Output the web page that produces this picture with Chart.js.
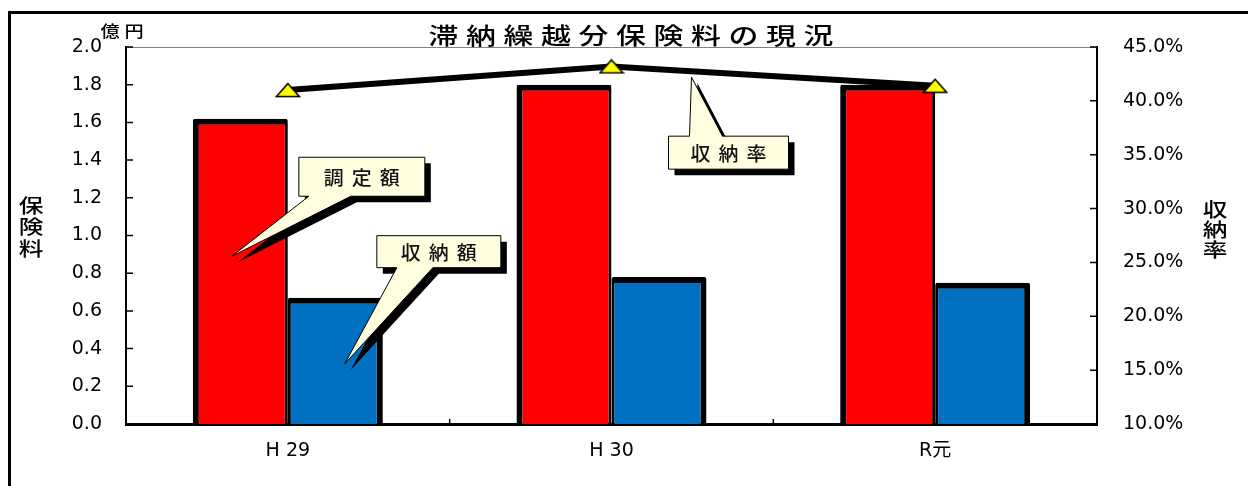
<!DOCTYPE html>
<html>
<head>
<meta charset="utf-8">
<script src="https://cdn.jsdelivr.net/npm/chart.js@4"></script>
<style>
  html, body { margin: 0; padding: 0; background: #fff; }
  #wrap { width: 1248px; height: 486px; }
</style>
</head>
<body>
<div id="wrap"><canvas id="myChart"></canvas></div>
<script>
// chart data
const categories = ['H 29', 'H 30', 'R元'];
const chouteiGaku = [1.62, 1.80, 1.80];   // 調定額 (億円)
const shunouGaku = [0.67, 0.78, 0.75];    // 収納額 (億円)
const shunouRitsu = [41.0, 43.2, 41.4];   // 収納率 (%)
const amountTicks = [0.0, 0.2, 0.4, 0.6, 0.8, 1.0, 1.2, 1.4, 1.6, 1.8, 2.0];
const rateTicks = [10, 15, 20, 25, 30, 35, 40, 45];

const TICK_FONT = '"DejaVu Sans", "Noto Sans CJK JP", sans-serif';
const JP_FONT = '"Noto Sans CJK JP", "DejaVu Sans", sans-serif';

// flat yellow triangle used as point marker
const tri = document.createElement('canvas');
tri.width = 26;
tri.height = 16;
(function () {
  const t = tri.getContext('2d');
  t.beginPath();
  t.moveTo(13, 1.5);
  t.lineTo(24.5, 14.5);
  t.lineTo(1.5, 14.5);
  t.closePath();
  t.fillStyle = '#ffff00';
  t.fill();
  t.lineWidth = 1.5;
  t.strokeStyle = '#000';
  t.stroke();
})();

// draws characters one by one with a fixed pitch, optionally stretched
function spacedText(ctx, text, cx, cy, pitch, sx, vertical) {
  const chars = [...text];
  const start = (vertical ? cy : cx) - pitch * (chars.length - 1) / 2;
  chars.forEach((ch, i) => {
    const x = vertical ? cx : start + i * pitch;
    const y = vertical ? start + i * pitch : cy;
    ctx.save();
    ctx.translate(x, y);
    ctx.scale(sx, 1);
    ctx.fillText(ch, 0, 0);
    ctx.restore();
  });
}

// callouts, tip anchored to data values
const callouts = [
  { text: '調定額', index: 0, dx: -56, axis: 'y', value: 0.89, bx: 67, by: -99, w: 126, h: 39, side: 'bottom', base: [10, 52] },
  { text: '収納額', index: 0, dx: 57, axis: 'y', value: 0.32, bx: 32, by: -128, w: 124, h: 32, side: 'bottom', base: [20, 56] },
  { text: '収納率', index: 1, dx: 80, axis: 'yRate', value: 42.2, bx: -23, by: 59, w: 120, h: 33, side: 'top', base: [21, 54] },
];

function calloutPath(ctx, c, tx, ty, ox, oy) {
  const x = tx + c.bx + ox, y = ty + c.by + oy;
  ctx.beginPath();
  if (c.side === 'bottom') {
    ctx.moveTo(x, y);
    ctx.lineTo(x + c.w, y);
    ctx.lineTo(x + c.w, y + c.h);
    ctx.lineTo(x + c.base[1], y + c.h);
    ctx.lineTo(tx + ox, ty + oy);
    ctx.lineTo(x + c.base[0], y + c.h);
    ctx.lineTo(x, y + c.h);
  } else {
    ctx.moveTo(x, y);
    ctx.lineTo(x + c.base[0], y);
    ctx.lineTo(tx + ox, ty + oy);
    ctx.lineTo(x + c.base[1], y);
    ctx.lineTo(x + c.w, y);
    ctx.lineTo(x + c.w, y + c.h);
    ctx.lineTo(x, y + c.h);
  }
  ctx.closePath();
}

const calloutPlugin = {
  id: 'callouts',
  afterDatasetsDraw(chart) {
    const ctx = chart.ctx;
    const xs = chart.scales.x;
    callouts.forEach(c => {
      const tx = xs.getPixelForValue(c.index) + c.dx;
      const ty = chart.scales[c.axis].getPixelForValue(c.value);
      ctx.save();
      calloutPath(ctx, c, tx, ty, 6, 6);
      ctx.fillStyle = '#000';
      ctx.fill();
      calloutPath(ctx, c, tx, ty, 0, 0);
      ctx.fillStyle = '#ffffe0';
      ctx.fill();
      ctx.lineWidth = 1;
      ctx.strokeStyle = '#000';
      ctx.stroke();
      ctx.fillStyle = '#111';
      ctx.font = '500 19px ' + JP_FONT;
      ctx.textAlign = 'center';
      ctx.textBaseline = 'middle';
      spacedText(ctx, c.text, tx + c.bx + c.w / 2, ty + c.by + c.h / 2 + 1, 28, 1.05, false);
      ctx.restore();
    });
  }
};

const decorPlugin = {
  id: 'decor',
  afterDraw(chart) {
    const ctx = chart.ctx;
    const a = chart.chartArea;
    const xs = chart.scales.x, yl = chart.scales.y, yr = chart.scales.yRate;
    ctx.save();

    // outer frame
    ctx.strokeStyle = '#000';
    ctx.lineWidth = 3;
    ctx.beginPath();
    ctx.moveTo(9.5, 486);
    ctx.lineTo(9.5, 12.5);
    ctx.lineTo(1248, 12.5);
    ctx.stroke();

    // plot top line
    ctx.strokeStyle = '#808080';
    ctx.lineWidth = 1;
    ctx.beginPath();
    ctx.moveTo(a.left, a.top + 0.5);
    ctx.lineTo(a.right, a.top + 0.5);
    ctx.stroke();

    // inward ticks
    ctx.strokeStyle = '#000';
    ctx.lineWidth = 1.5;
    ctx.beginPath();
    yl.ticks.forEach(t => {
      const y = yl.getPixelForValue(t.value);
      ctx.moveTo(a.left, y);
      ctx.lineTo(a.left + 7, y);
    });
    yr.ticks.forEach(t => {
      const y = yr.getPixelForValue(t.value);
      ctx.moveTo(a.right, y);
      ctx.lineTo(a.right - 7, y);
    });
    for (let i = 1; i < categories.length; i++) {
      const x = (xs.getPixelForValue(i - 1) + xs.getPixelForValue(i)) / 2;
      ctx.moveTo(x, a.bottom);
      ctx.lineTo(x, a.bottom - 5);
    }
    ctx.stroke();

    // title and axis titles
    ctx.fillStyle = '#000';
    ctx.textAlign = 'center';
    ctx.textBaseline = 'middle';
    ctx.font = '500 23px ' + JP_FONT;
    spacedText(ctx, '滞納繰越分保険料の現況', 631, 35, 37.5, 1.3, false);
    ctx.font = '500 16px ' + JP_FONT;
    spacedText(ctx, '億円', 122, 31, 24, 1.2, false);
    ctx.font = '500 19px ' + JP_FONT;
    spacedText(ctx, '保険料', 31, 227, 21.5, 1.3, true);
    spacedText(ctx, '収納率', 1215, 230, 20, 1.3, true);
    ctx.restore();
  }
};

new Chart(document.getElementById('myChart'), {
  type: 'bar',
  data: {
    labels: categories,
    datasets: [
      {
        type: 'line',
        label: '収納率',
        data: shunouRitsu,
        yAxisID: 'yRate',
        borderColor: '#000',
        borderWidth: 6,
        pointStyle: tri,
        pointRadius: 12,
        order: 0,
        tension: 0,
      },
      {
        label: '調定額',
        data: chouteiGaku,
        yAxisID: 'y',
        backgroundColor: '#ff0000',
        borderColor: '#000',
        borderWidth: { top: 6, left: 6, right: 3, bottom: 0 },
        borderRadius: 2,
        order: 1,
      },
      {
        label: '収納額',
        data: shunouGaku,
        yAxisID: 'y',
        backgroundColor: '#0070c0',
        borderColor: '#000',
        borderWidth: { top: 6, left: 3, right: 6, bottom: 0 },
        borderRadius: 2,
        order: 1,
      },
    ],
  },
  options: {
    responsive: true,
    maintainAspectRatio: false,
    animation: false,
    layout: { padding: { top: 47, left: 0, right: 0, bottom: 0 } },
    categoryPercentage: 0.587,
    barPercentage: 1.0,
    plugins: {
      legend: { display: false },
      title: { display: false },
      tooltip: { enabled: false },
    },
    scales: {
      x: {
        grid: { display: false },
        border: { color: '#000', width: 3 },
        ticks: { color: '#000', padding: 8, font: { family: TICK_FONT, size: 19 } },
        afterFit: s => { s.height = 62; },
      },
      y: {
        position: 'left',
        min: 0,
        max: 2,
        afterBuildTicks: s => { s.ticks = amountTicks.map(v => ({ value: v })); },
        grid: { display: false, drawTicks: false },
        border: { color: '#000', width: 2 },
        ticks: {
          color: '#000',
          padding: 24,
          font: { family: TICK_FONT, size: 19 },
          callback: v => Number(v).toFixed(1),
        },
        afterFit: s => { s.width = 126; },
      },
      yRate: {
        position: 'right',
        min: 10,
        max: 45,
        afterBuildTicks: s => { s.ticks = rateTicks.map(v => ({ value: v })); },
        grid: { display: false, drawTicks: false },
        border: { color: '#000', width: 2 },
        ticks: {
          color: '#000',
          padding: 26,
          font: { family: TICK_FONT, size: 19 },
          callback: v => Number(v).toFixed(1) + '%',
        },
        afterFit: s => { s.width = 151; },
      },
    },
  },
  plugins: [calloutPlugin, decorPlugin],
});
</script>
</body>
</html>
